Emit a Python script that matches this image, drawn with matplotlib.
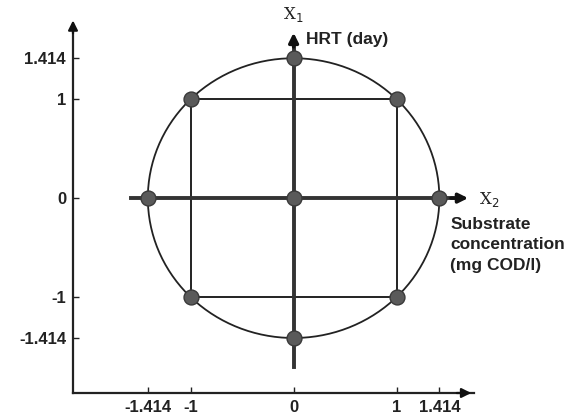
import numpy as np
import matplotlib.pyplot as plt

# central composite design points (coded levels)
level = 1.414
design_x = [-1, 1, -1, 1, -level, level, 0, 0, 0]
design_y = [-1, -1, 1, 1, 0, 0, -level, level, 0]
tick_vals = [-1.414, -1, 0, 1, 1.414]
tick_labels = ['-1.414', '-1', '0', '1', '1.414']

plt.rcParams['font.family'] = ['Liberation Sans', 'DejaVu Sans']

fig = plt.figure(figsize=(5.81, 4.16), dpi=100)
W, H = 581, 416
ax = fig.add_axes([73 / W, 23 / H, 401 / W, 368 / H])
ax.set_xlim(-2.14, 1.75)
ax.set_ylim(-1.97, 1.75)

for s in ['top', 'right']:
    ax.spines[s].set_visible(False)
for s in ['left', 'bottom']:
    ax.spines[s].set_linewidth(1.6)
    ax.spines[s].set_color('#222222')

ax.set_xticks(tick_vals)
ax.set_xticklabels(tick_labels)
ax.set_yticks(tick_vals)
ax.set_yticklabels(tick_labels)
ax.tick_params(direction='in', length=4, width=1, colors='#222222',
               labelsize=12, pad=5)
for lab in ax.get_xticklabels() + ax.get_yticklabels():
    lab.set_fontweight('bold')

# arrow heads on the outer axes
ax.annotate('', xy=(0, 1.02), xytext=(0, 0.97), xycoords='axes fraction',
            arrowprops=dict(arrowstyle='-|>', color='#111111', lw=1.6,
                            mutation_scale=14), annotation_clip=False)
ax.annotate('', xy=(1.0, 0), xytext=(0.95, 0), xycoords='axes fraction',
            arrowprops=dict(arrowstyle='-|>', color='#111111', lw=1.6,
                            mutation_scale=14), annotation_clip=False)

# circle through the axial points
t = np.linspace(0, 2 * np.pi, 400)
ax.plot(level * np.cos(t), level * np.sin(t), color='#222222', lw=1.3, zorder=2)

# square through the factorial points
ax.plot([-1, 1, 1, -1, -1], [-1, -1, 1, 1, -1], color='#222222', lw=1.4, zorder=2)

# inner coded axes
ax.plot([0, 0], [-1.71, 1.55], color='#333333', lw=2.8, zorder=2)
ax.plot([-1.58, 1.55], [0, 0], color='#333333', lw=2.8, zorder=2)
ax.annotate('', xy=(0, 1.70), xytext=(0, 1.50),
            arrowprops=dict(arrowstyle='-|>', color='#111111', lw=2.5,
                            mutation_scale=14))
ax.annotate('', xy=(1.72, 0), xytext=(1.50, 0),
            arrowprops=dict(arrowstyle='-|>', color='#111111', lw=2.5,
                            mutation_scale=14))

ax.scatter(design_x, design_y, s=115, color='#5a5a5a', edgecolor='#3a3a3a',
           linewidth=1, zorder=5)

ax.text(0, 1.86, r'X$_1$', family='DejaVu Serif', fontsize=12,
        ha='center', va='center', color='#222222', clip_on=False)
ax.text(0.12, 1.60, 'HRT (day)', fontsize=12.5, fontweight='bold',
        ha='left', va='center', color='#222222')
ax.text(1.80, -0.01, r'X$_2$', family='DejaVu Serif', fontsize=12,
        ha='left', va='center', color='#222222', clip_on=False)
ax.text(1.52, -0.19, 'Substrate\nconcentration\n(mg COD/l)', fontsize=12.5,
        fontweight='bold', ha='left', va='top', color='#222222',
        linespacing=1.45, clip_on=False)

fig.savefig('out.png', dpi=100)
